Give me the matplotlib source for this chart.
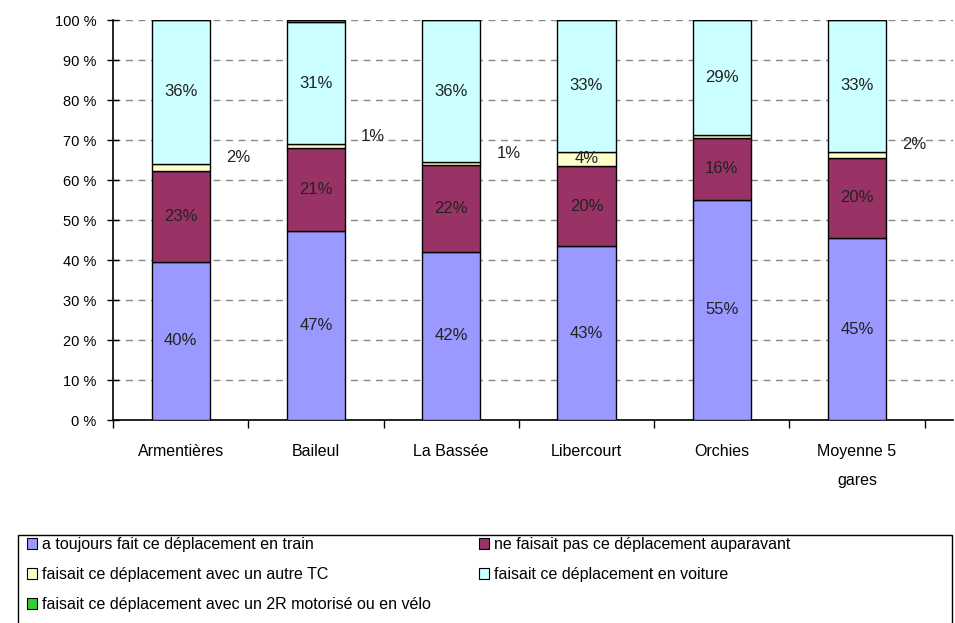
import matplotlib
matplotlib.use('Agg')
import numpy as np
import matplotlib.pyplot as plt
from matplotlib.patches import Patch, Rectangle

plt.rcParams['font.family'] = ['Liberation Sans', 'DejaVu Sans']

# data (percent of users per station)
gares = ['Armentières', 'Baileul', 'La Bassée', 'Libercourt', 'Orchies', 'Moyenne 5\ngares']
train = [39.6, 47.2, 42.0, 43.4, 55.0, 45.4]
nouveau = [22.7, 20.8, 21.7, 20.1, 15.6, 20.2]
autre_tc = [1.8, 0.9, 0.7, 3.6, 0.6, 1.5]
voiture = [35.9, 30.6, 35.6, 32.9, 28.8, 32.9]
deux_roues = [0.0, 0.5, 0.0, 0.0, 0.0, 0.0]
# which small "autre TC" labels are shown, and whether they sit inside the bar
tc_label = ['out', 'out', 'out', 'in', None, 'out']

series = [train, nouveau, autre_tc, voiture, deux_roues]
noms = ['a toujours fait ce déplacement en train',
        'ne faisait pas ce déplacement auparavant',
        'faisait ce déplacement avec un autre TC',
        'faisait ce déplacement en voiture',
        'faisait ce déplacement avec un 2R motorisé ou en vélo']
couleurs = ['#9999FF', '#993366', '#FFFFCC', '#CCFFFF', '#33CC33']

fig = plt.figure(figsize=(9.55, 6.23), dpi=100)
ax = fig.add_axes([113/955, 1-420/623, 840/955, 400/623])

x = np.arange(len(gares))
w = 0.43
bas = np.zeros(len(gares))
for i, (vals, c) in enumerate(zip(series, couleurs)):
    vals = np.array(vals)
    ax.bar(x, vals, w, bottom=bas, color=c, edgecolor='black', linewidth=1.0, zorder=3)
    for j, v in enumerate(vals):
        mid = bas[j] + v/2
        txt = f'{v:.0f}%'
        if i in (0, 1, 3) or (i == 2 and tc_label[j] == 'in'):
            ax.text(x[j], mid, txt, ha='center', va='center', fontsize=12, color='#222222', zorder=4)
        elif i == 2 and tc_label[j] == 'out':
            ax.text(x[j] + w/2 + 0.12, mid + 2.5, txt, ha='left', va='center', fontsize=12,
                    color='#222222', zorder=4)
    bas += vals

ax.set_ylim(0, 100)
ax.set_xlim(-0.5, 5.71)
ax.set_yticks(np.arange(0, 101, 10))
ax.set_yticklabels([f'{t} %' for t in range(0, 101, 10)], fontsize=10.5)
ax.set_xticks(x)
ax.set_xticklabels(gares, fontsize=11.5, va='top', linespacing=2.2)
ax.set_xticks(np.arange(-0.5, 6, 1), minor=True)
ax.tick_params(axis='x', which='major', length=0, pad=17)
ax.tick_params(axis='x', which='minor', length=6, direction='out', width=1)
ax.tick_params(axis='y', which='major', direction='inout', length=8, width=1, pad=8)
for s in ['top', 'right']:
    ax.spines[s].set_visible(False)
ax.spines['left'].set_linewidth(1.2)
ax.spines['bottom'].set_linewidth(1.2)
ax.yaxis.grid(True, linestyle=(0, (5, 4)), color='#888888', linewidth=1, zorder=0)
ax.set_axisbelow(True)

# legend box (cut at the bottom of the picture like the original)
fig.patches.append(Rectangle((18/955, -0.05), 934/955, 1-535/623 + 0.05,
                             transform=fig.transFigure, facecolor='white',
                             edgecolor='black', linewidth=1.0))
handles = [Patch(facecolor=c, edgecolor='black', linewidth=0.8) for c in couleurs]
kw = dict(loc='upper left', fontsize=11.5, frameon=False, handlelength=0.65,
          handleheight=0.65, handletextpad=0.3, labelspacing=0.95, borderpad=0,
          borderaxespad=0)
leg1 = fig.legend([handles[k] for k in (0, 2, 4)], [noms[k] for k in (0, 2, 4)],
                  bbox_to_anchor=(27/955, 1-537/623), **kw)
leg2 = fig.legend([handles[k] for k in (1, 3)], [noms[k] for k in (1, 3)],
                  bbox_to_anchor=(479/955, 1-537/623), **kw)

fig.savefig('out.png', dpi=100)
